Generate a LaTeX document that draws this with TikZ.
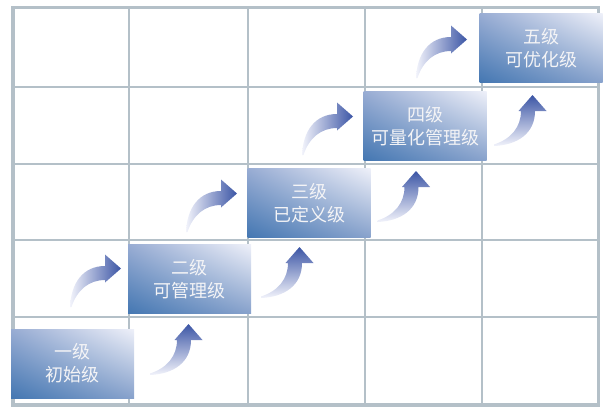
\documentclass[tikz,border=0pt]{standalone}
\usepackage{fontspec}
\usetikzlibrary{shadings}
\newfontfamily\cjk{Noto Sans CJK SC}
\definecolor{gridc}{HTML}{B4C0C8}
\definecolor{txtc}{HTML}{F4F4F6}
\definecolor{boxdark}{HTML}{4477B2}
\definecolor{boxmidA}{HTML}{98ACD3}
\definecolor{boxmidB}{HTML}{88A2CC}
\definecolor{boxlight}{HTML}{EEF0F9}
\definecolor{arrdark}{HTML}{3B55A5}
\definecolor{arrlight}{HTML}{F2F3FB}
\begin{document}
\begin{tikzpicture}[x=0.75pt,y=-0.75pt,
  gridline/.style={draw=gridc, line width=1.5pt},
  border/.style={draw=gridc, line width=2.6pt},
  levelbox/.style={shade, lower left=boxdark, upper left=boxmidA, lower right=boxmidB, upper right=boxlight,
    minimum width=92.25pt, minimum height=51.75pt, inner sep=0pt, align=center,
    text=txtc, font=\cjk\fontsize{13.5}{17.25}\selectfont},
  rightarrow/.style={left color=arrlight, right color=arrdark, draw=none},
  uparrow/.style={bottom color=arrlight, top color=arrdark, draw=none},
  rarrow/.pic={\path[rightarrow] (-51,39) .. controls (-50,15) and (-38,-2) .. (-16,-2)
      -- (-16,-13.5) -- (0,0.5) -- (-16,14.5) -- (-16,12)
      .. controls (-32,12) and (-44,22) .. (-49.5,39) -- cycle;},
  uarrow/.pic={\path[uparrow] (-39,51) .. controls (-15,50) and (2,38) .. (2,16)
      -- (13.5,16) -- (-0.5,0) -- (-14.5,16) -- (-12,16)
      .. controls (-12,32) and (-22,44) .. (-39,49.5) -- cycle;}
]
\useasboundingbox (0,0) rectangle (605,408);
% grid
\foreach \gx in {129,248,365,482} \draw[gridline] (\gx,7.5) -- (\gx,405);
\foreach \gy in {87,164,240,317} \draw[gridline] (13,\gy) -- (598.5,\gy);
\draw[border] (13,7.5) rectangle (598.5,405);
% arrows
\pic at (121,268) {rarrow};
\pic at (237,193) {rarrow};
\pic at (353,116) {rarrow};
\pic at (467,39) {rarrow};
\pic at (189,324) {uarrow};
\pic at (300,247) {uarrow};
\pic at (416.5,171) {uarrow};
\pic at (533,95) {uarrow};
% level boxes
\node[levelbox] (l1) at (72.5,363.5) {一级\\初始级};
\node[levelbox] (l2) at (189.5,279) {二级\\可管理级};
\node[levelbox] (l3) at (309,203) {三级\\已定义级};
\node[levelbox] (l4) at (425,126) {四级\\可量化管理级};
\node[levelbox] (l5) at (541,48) {五级\\可优化级};
\end{tikzpicture}
\end{document}
